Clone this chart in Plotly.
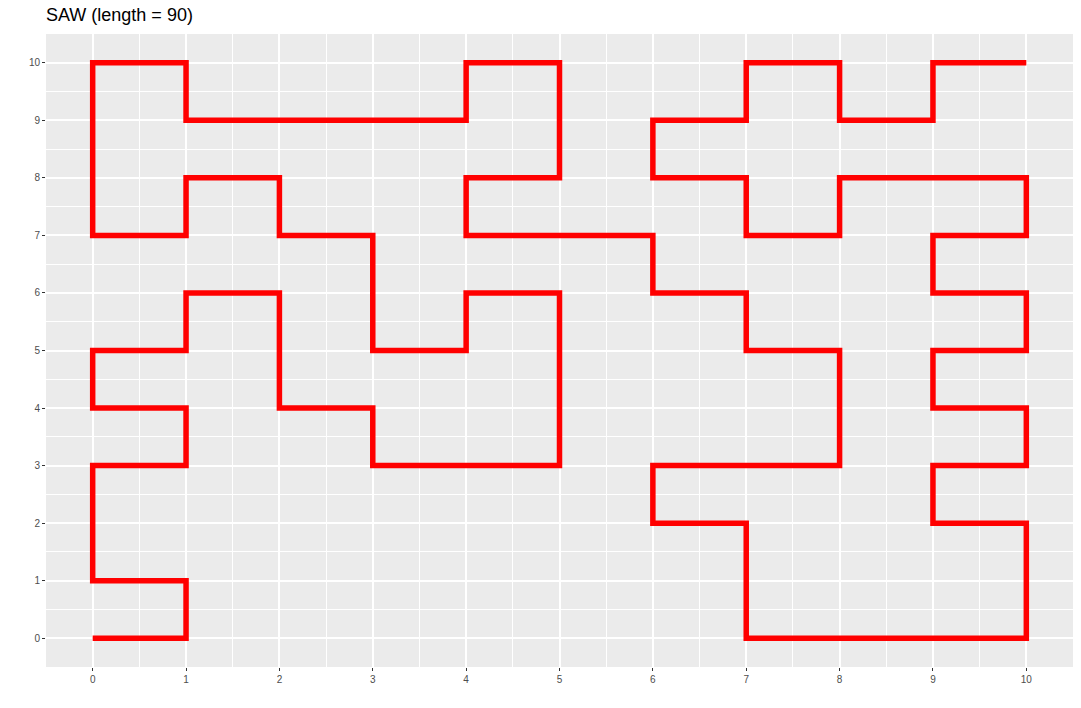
import plotly.graph_objects as go

x_vals = [0,1,1,0,0,0,1,1,0,0,1,1,2,2,2,3,3,4,5,5,5,5,4,4,3,3,3,2,2,1,1,0,0,0,0,1,1,2,3,4,4,5,5,5,4,4,5,6,6,7,7,8,8,8,7,6,6,7,7,7,8,9,10,10,10,9,9,10,10,9,9,10,10,9,9,10,10,9,8,8,7,7,6,6,7,7,8,8,9,9,10]
y_vals = [0,0,1,1,2,3,3,4,4,5,5,6,6,5,4,4,3,3,3,4,5,6,6,5,5,6,7,7,8,8,7,7,8,9,10,10,9,9,9,9,10,10,9,8,8,7,7,7,6,6,5,5,4,3,3,3,2,2,1,0,0,0,0,1,2,2,3,3,4,4,5,5,6,6,7,7,8,8,8,7,7,8,8,9,9,10,10,9,9,10,10]
tick_vals = list(range(0, 11))
tick_text = [str(v) for v in tick_vals]
title_text = "SAW (length = 90)"

fig = go.Figure()
fig.add_trace(go.Scatter(x=x_vals, y=y_vals, mode="lines",
                         line=dict(color="#FF0000", width=5.5), hoverinfo="skip"))

axis_common = dict(
    range=[-0.5, 10.5], tickvals=tick_vals, ticktext=tick_text,
    showgrid=True, gridcolor="#FFFFFF", gridwidth=1.6,
    zeroline=False, showline=False,
    ticks="outside", ticklen=3, tickwidth=1, tickcolor="#333333",
    tickfont=dict(family="Liberation Sans, Arial, sans-serif", size=10, color="#4D4D4D"),
    minor=dict(dtick=0.5, tick0=0.5, showgrid=True, gridcolor="#FFFFFF", gridwidth=0.7, ticks=""),
    fixedrange=True,
)

fig.update_layout(
    width=1081, height=708,
    margin=dict(l=46, r=8, t=34, b=41),
    paper_bgcolor="#FFFFFF", plot_bgcolor="#EBEBEB",
    showlegend=False,
    title=dict(text=title_text, x=46/1081, xanchor="left", y=1-15/708, yanchor="middle",
               font=dict(family="Liberation Sans, Arial, sans-serif", size=18, color="#000000")),
    xaxis=dict(**axis_common),
    yaxis=dict(**axis_common),
)

fig.write_html("out.html")
